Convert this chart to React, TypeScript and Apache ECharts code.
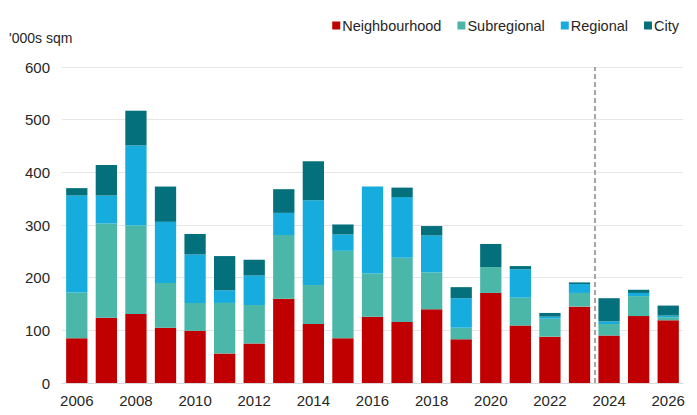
import React, { useEffect, useRef } from "react";
import * as echarts from "echarts";

const years = ["2006","2007","2008","2009","2010","2011","2012","2013","2014","2015","2016","2017","2018","2019","2020","2021","2022","2023","2024","2025","2026"];
const neighbourhood = [85, 124, 131, 105, 99, 56, 75, 160, 112, 85, 126, 116, 140, 83, 171, 109, 88, 145, 90, 127, 119];
const subregional = [87, 179, 168, 85, 53, 96, 73, 121, 74, 166, 82, 122, 70, 22, 49, 53, 34, 26, 22, 38, 6];
const regional = [184, 53, 152, 116, 92, 24, 56, 42, 161, 31, 165, 115, 70, 56, 0, 54, 4, 17, 5, 6, 3];
const city = [14, 58, 66, 67, 39, 65, 30, 45, 74, 19, 0, 18, 18, 21, 44, 6, 7, 3, 44, 6, 19];
const forecastBoundary = 17.5;

const FONT = '"Liberation Sans", Arial, sans-serif';

export default function App() {
  const ref = useRef<HTMLDivElement>(null);
  useEffect(() => {
    if (!ref.current) return;
    const chart = echarts.init(ref.current, undefined, { renderer: "svg" });
    const mk = (name: string, data: number[], color: string) => ({
      name,
      type: "bar",
      stack: "total",
      data,
      barWidth: "72%",
      itemStyle: { color },
      xAxisIndex: 0,
      yAxisIndex: 0,
    });
    chart.setOption({
      animation: false,
      textStyle: { fontFamily: FONT },
      title: {
        text: "'000s sqm",
        left: 4,
        top: 26,
        textStyle: { fontFamily: FONT, fontSize: 14, fontWeight: "normal", color: "#262626" },
      },
      legend: {
        top: 13,
        right: 13,
        icon: "rect",
        itemWidth: 8,
        itemHeight: 8,
        itemGap: 16,
        textStyle: { fontFamily: FONT, fontSize: 14.5, color: "#262626", padding: [0, 0, 0, -3] },
        data: ["Neighbourhood", "Subregional", "Regional", "City"],
      },
      grid: { left: 62, right: 14, top: 67, bottom: 32 },
      xAxis: [
        {
          type: "category",
          data: years,
          axisTick: { show: false },
          axisLine: { lineStyle: { color: "#D9D9D9" } },
          axisLabel: { interval: 1, fontFamily: FONT, fontSize: 15, color: "#262626", margin: 10 },
        },
        {
          type: "value",
          min: -0.5,
          max: 20.5,
          show: false,
        },
      ],
      yAxis: {
        type: "value",
        min: 0,
        max: 600,
        interval: 100,
        axisLine: { show: false },
        axisTick: { show: false },
        axisLabel: { fontFamily: FONT, fontSize: 15, color: "#262626", margin: 12 },
        splitLine: { lineStyle: { color: "#E6E6E6" } },
      },
      series: [
        mk("Neighbourhood", neighbourhood, "#C00000"),
        mk("Subregional", subregional, "#4BB7A8"),
        mk("Regional", regional, "#17ACDE"),
        mk("City", city, "#03707B"),
        {
          type: "line",
          xAxisIndex: 1,
          yAxisIndex: 0,
          data: [],
          silent: true,
          markLine: {
            silent: true,
            symbol: ["none", "none"],
            label: { show: false },
            lineStyle: { type: [5, 3], color: "#A6A6A6", width: 2 },
            data: [[{ coord: [forecastBoundary, 0] }, { coord: [forecastBoundary, 600] }]],
          },
        },
      ],
    });
    return () => chart.dispose();
  }, []);
  return <div ref={ref} style={{ width: 697, height: 415, position: "absolute", left: 0, top: 0, background: "#fff" }} />;
}
